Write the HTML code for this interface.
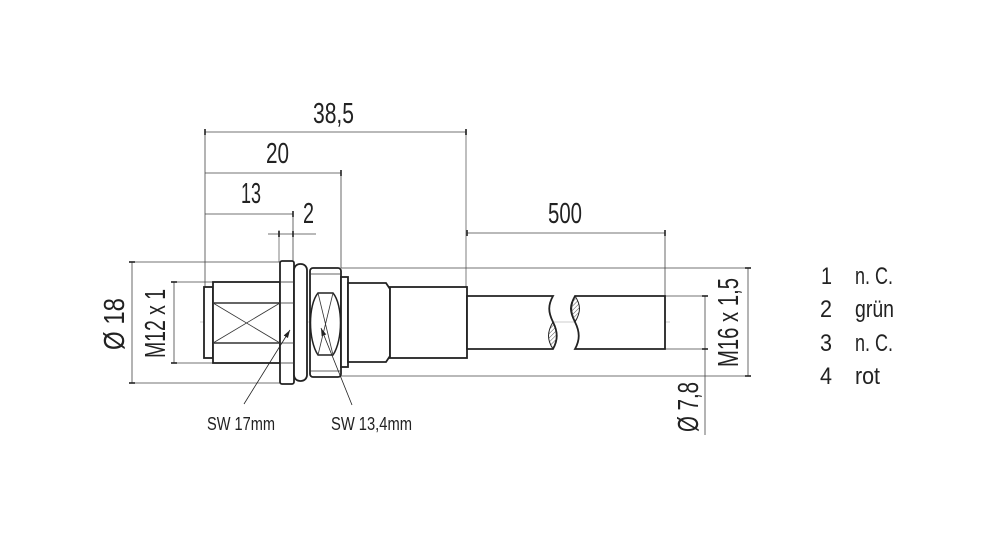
<!DOCTYPE html>
<html><head><meta charset="utf-8"><style>
html,body{margin:0;padding:0;background:#fff;}
svg{display:block}
text{font-family:"Liberation Sans",sans-serif;fill:#222;}
</style></head><body>
<svg width="994" height="535" viewBox="0 0 994 535" xmlns="http://www.w3.org/2000/svg">
<defs>
<marker id="a" markerWidth="8" markerHeight="6" refX="8" refY="3" orient="auto" markerUnits="userSpaceOnUse"><path d="M0,0.5 L8,3 L0,5.5 Z" fill="#222"/></marker>
<pattern id="h" width="3" height="3" patternUnits="userSpaceOnUse" patternTransform="rotate(45)"><line x1="0" y1="0" x2="0" y2="3" stroke="#444" stroke-width="0.9"/></pattern>
</defs>
<g stroke="#444" stroke-width="0.8" fill="none">
<line x1="205" y1="132" x2="466" y2="132"/>
<line x1="205" y1="173" x2="341" y2="173"/>
<line x1="205" y1="214" x2="293" y2="214"/>
<line x1="268" y1="234" x2="316" y2="234"/>
<line x1="467" y1="233" x2="665" y2="233"/>
<line x1="205" y1="130" x2="205" y2="287"/>
<line x1="341" y1="171" x2="341" y2="268"/>
<line x1="293" y1="212" x2="293" y2="262"/>
<line x1="279" y1="230" x2="279" y2="262" stroke="#aaa" stroke-width="1.5"/>
<line x1="466" y1="130" x2="466" y2="287" stroke="#aaa" stroke-width="1.5"/>
<line x1="665" y1="231" x2="665" y2="296"/>
<line x1="132" y1="262" x2="132" y2="383"/>
<line x1="130" y1="262" x2="290" y2="262"/>
<line x1="130" y1="383" x2="290" y2="383"/>
<line x1="174" y1="282" x2="174" y2="363"/>
<line x1="172" y1="282" x2="213" y2="282"/>
<line x1="172" y1="363" x2="213" y2="363"/>
<line x1="341" y1="268" x2="750" y2="268"/>
<line x1="341" y1="376" x2="750" y2="376"/>
<line x1="748" y1="268" x2="748" y2="376"/>
<line x1="665" y1="296" x2="708" y2="296"/>
<line x1="665" y1="349" x2="708" y2="349"/>
<line x1="705" y1="296" x2="705" y2="435"/>
<line x1="200" y1="322" x2="670" y2="322" stroke="#bbb"/>
</g>
<g stroke="#222" stroke-width="1.6">
<line x1="205" y1="129" x2="205" y2="135"/><line x1="466" y1="129" x2="466" y2="135"/>
<line x1="341" y1="170" x2="341" y2="176"/><line x1="293" y1="211" x2="293" y2="217"/>
<line x1="279" y1="231" x2="279" y2="237"/><line x1="293" y1="231" x2="293" y2="237"/>
<line x1="467" y1="230" x2="467" y2="236"/><line x1="665" y1="230" x2="665" y2="236"/>
<line x1="129" y1="262" x2="135" y2="262"/><line x1="129" y1="383" x2="135" y2="383"/>
<line x1="171" y1="282" x2="177" y2="282"/><line x1="171" y1="363" x2="177" y2="363"/>
<line x1="745" y1="268" x2="751" y2="268"/><line x1="745" y1="376" x2="751" y2="376"/>
<line x1="702" y1="296" x2="708" y2="296"/><line x1="702" y1="349" x2="708" y2="349"/>
</g>
<g stroke="#222" stroke-width="1.8" fill="#fff">
<rect x="204" y="287" width="9" height="71"/>
<rect x="213" y="282" width="67" height="81"/>
<rect x="280" y="261" width="14" height="123" rx="2"/>
<rect x="294" y="264" width="13" height="117" rx="6"/>
<rect x="310" y="268" width="31" height="109" rx="3"/>
<rect x="341" y="277" width="7" height="90"/>
<path d="M348,283 L386,283 L390,289 L390,356 L386,362 L348,362 Z"/>
<rect x="390" y="287" width="77" height="71"/>
<path d="M467,296 L553,296 C548,305 548,312 553,322 C558,332 558,340 553,349 L467,349 Z"/>
<path d="M665,296 L575,296 C570,305 570,312 575,322 C580,332 580,340 575,349 L665,349 Z"/>
</g>
<g stroke="#222" stroke-width="1" fill="url(#h)">
<path d="M553,322 C558,332 558,340 553,349 C547,340 547,332 553,322 Z"/>
<path d="M575,296 C569,305 569,312 575,322 C581,312 581,305 575,296 Z"/>
</g>
<g stroke="#333" stroke-width="0.8" fill="none">
<line x1="213" y1="303" x2="280" y2="303" stroke-width="1.5"/>
<line x1="213" y1="343" x2="280" y2="343" stroke-width="1.5"/>
<line x1="213" y1="303" x2="280" y2="343"/><line x1="213" y1="343" x2="280" y2="303"/>
<line x1="280" y1="282" x2="294" y2="282"/><line x1="280" y1="303" x2="294" y2="303"/>
<line x1="280" y1="343" x2="294" y2="343"/><line x1="280" y1="363" x2="294" y2="363"/>
<line x1="310" y1="274" x2="341" y2="274"/><line x1="310" y1="371" x2="341" y2="371"/>
<path d="M318,293 L333,293 C343,305 343,340 333,355 L318,355 C308,340 308,305 318,293 Z" stroke-width="1.5" stroke="#222"/>
<line x1="318" y1="293" x2="333" y2="355"/><line x1="333" y1="293" x2="318" y2="355"/>
<line x1="244" y1="404" x2="290" y2="330" stroke="#222" marker-end="url(#a)"/>
<line x1="352" y1="405" x2="321" y2="328" stroke="#222" marker-end="url(#a)"/>
</g>
<g font-size="29">
<text x="313" y="123" textLength="41" lengthAdjust="spacingAndGlyphs">38,5</text>
<text x="266" y="163" textLength="23" lengthAdjust="spacingAndGlyphs">20</text>
<text x="241" y="203" textLength="20" lengthAdjust="spacingAndGlyphs">13</text>
<text x="303" y="223" textLength="11" lengthAdjust="spacingAndGlyphs">2</text>
<text x="548" y="223" textLength="34" lengthAdjust="spacingAndGlyphs">500</text>
<text transform="translate(124,350) rotate(-90)" textLength="52" lengthAdjust="spacingAndGlyphs">Ø 18</text>
<text transform="translate(165,358) rotate(-90)" textLength="69" lengthAdjust="spacingAndGlyphs">M12 x 1</text>
<text transform="translate(738,367) rotate(-90)" textLength="89" lengthAdjust="spacingAndGlyphs">M16 x 1,5</text>
<text transform="translate(698,432) rotate(-90)" textLength="50" lengthAdjust="spacingAndGlyphs">Ø 7,8</text>
</g>
<g font-size="24">
<text x="821" y="284" textLength="11" lengthAdjust="spacingAndGlyphs">1</text><text x="855" y="284" textLength="38" lengthAdjust="spacingAndGlyphs">n. C.</text>
<text x="820" y="317" textLength="12" lengthAdjust="spacingAndGlyphs">2</text><text x="855" y="317" textLength="39" lengthAdjust="spacingAndGlyphs">grün</text>
<text x="820" y="351" textLength="12" lengthAdjust="spacingAndGlyphs">3</text><text x="855" y="351" textLength="38" lengthAdjust="spacingAndGlyphs">n. C.</text>
<text x="820" y="384" textLength="12" lengthAdjust="spacingAndGlyphs">4</text><text x="855" y="384" textLength="25" lengthAdjust="spacingAndGlyphs">rot</text>
</g>
<g font-size="18">
<text x="207" y="430" textLength="68" lengthAdjust="spacingAndGlyphs">SW 17mm</text>
<text x="331" y="430" textLength="81" lengthAdjust="spacingAndGlyphs">SW 13,4mm</text>
</g>
</svg>
</body></html>
